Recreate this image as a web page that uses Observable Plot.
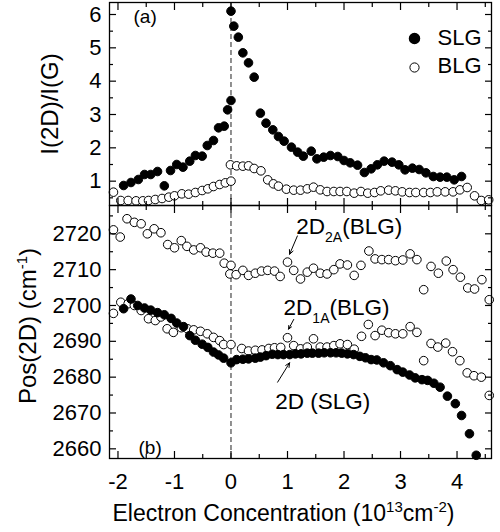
<!DOCTYPE html>
<html>
<head>
<meta charset="utf-8">
<script src="https://cdn.jsdelivr.net/npm/d3@7"></script>
<script src="https://cdn.jsdelivr.net/npm/@observablehq/plot@0.6"></script>
<style>
  body { margin: 0; background: #fff; }
  #chart { position: relative; width: 500px; height: 532px; }
  #chart svg { position: absolute; left: 0; }
</style>
</head>
<body>
<div id="chart"></div>
<script>
// ---------- data ----------
// Panel (a): I(2D)/I(G) vs electron concentration (10^13 cm^-2)
const slgRatio = [
  [-1.90,0.87],[-1.77,0.96],[-1.64,1.05],[-1.53,1.20],[-1.42,1.20],[-1.30,1.29],[-1.18,0.86],
  [-1.07,1.32],[-0.96,1.50],[-0.85,1.42],[-0.73,1.60],[-0.63,1.77],[-0.51,1.75],[-0.42,2.07],
  [-0.31,2.22],[-0.22,2.60],[-0.12,2.65],[-0.06,3.14],[0.00,3.42],[0.00,6.10],[0.05,5.65],
  [0.13,5.32],[0.21,4.85],[0.31,4.55],[0.41,4.12],[0.52,3.04],[0.62,2.74],[0.74,2.54],
  [0.84,2.34],[0.94,2.20],[1.07,2.02],[1.18,1.87],[1.28,1.75],[1.42,1.90],[1.52,1.67],
  [1.64,1.72],[1.76,1.77],[1.89,1.74],[2.00,1.62],[2.11,1.55],[2.24,1.48],[2.36,1.26],
  [2.48,1.37],[2.59,1.49],[2.71,1.60],[2.85,1.57],[2.97,1.49],[3.08,1.34],[3.21,1.39],
  [3.33,1.35],[3.45,1.25],[3.58,1.14],[3.70,1.12],[3.82,1.12],[3.95,1.04],[4.08,1.14]
];
const blgRatio = [
  [-2.08,0.67],[-1.95,0.42],[-1.82,0.42],[-1.68,0.41],[-1.56,0.41],[-1.46,0.42],[-1.34,0.45],
  [-1.22,0.48],[-1.10,0.52],[-1.00,0.56],[-0.87,0.62],[-0.75,0.61],[-0.63,0.66],[-0.51,0.72],
  [-0.41,0.77],[-0.31,0.84],[-0.20,0.90],[-0.10,0.95],[0.00,1.00],[-0.01,1.49],[0.10,1.46],
  [0.21,1.45],[0.31,1.46],[0.41,1.38],[0.53,1.31],[0.65,1.04],[0.75,0.92],[0.84,0.85],
  [0.98,0.76],[1.11,0.73],[1.23,0.73],[1.35,0.77],[1.46,0.82],[1.58,0.74],[1.70,0.69],
  [1.82,0.69],[1.93,0.69],[2.05,0.69],[2.18,0.64],[2.30,0.69],[2.42,0.64],[2.54,0.66],
  [2.65,0.71],[2.79,0.73],[2.91,0.71],[3.03,0.68],[3.16,0.66],[3.27,0.66],[3.41,0.66],
  [3.53,0.66],[3.65,0.68],[3.79,0.68],[3.93,0.68],[4.05,0.74],[4.18,0.81],[4.31,0.56],
  [4.43,0.42],[4.56,0.44]
];
// Panel (b): Pos(2D) (cm^-1)
const slgPos = [
  [-1.90,2699.1],[-1.77,2701.8],[-1.65,2700.0],[-1.53,2699.3],[-1.42,2698.7],[-1.30,2698.0],
  [-1.18,2697.4],[-1.06,2696.4],[-0.96,2695.1],[-0.84,2694.1],[-0.73,2691.6],[-0.63,2690.3],
  [-0.51,2689.2],[-0.41,2688.3],[-0.31,2687.0],[-0.22,2686.2],[-0.13,2685.3],[0.00,2684.0],
  [0.10,2684.9],[0.21,2685.0],[0.31,2685.1],[0.43,2685.3],[0.52,2685.6],[0.62,2686.0],
  [0.73,2686.4],[0.83,2686.3],[0.93,2686.3],[1.04,2686.3],[1.14,2686.5],[1.24,2686.5],
  [1.35,2686.7],[1.44,2686.7],[1.55,2686.7],[1.65,2686.8],[1.76,2686.8],[1.86,2686.8],
  [1.96,2686.7],[2.06,2686.5],[2.17,2686.3],[2.28,2685.8],[2.38,2685.4],[2.48,2684.9],
  [2.58,2684.8],[2.70,2684.0],[2.82,2683.2],[2.94,2682.1],[3.04,2681.4],[3.16,2680.6],
  [3.26,2679.8],[3.38,2679.3],[3.48,2679.1],[3.59,2678.3],[3.70,2677.2],[3.83,2674.7],
  [3.97,2672.6],[4.08,2669.3],[4.22,2664.2],[4.34,2658.2]
];
const blg2A = [
  [-2.08,2721.1],[-1.96,2719.1],[-1.84,2724.2],[-1.71,2723.2],[-1.59,2722.8],[-1.48,2720.0],
  [-1.36,2721.4],[-1.24,2720.3],[-1.12,2717.0],[-1.00,2716.1],[-0.88,2718.1],[-0.78,2716.5],
  [-0.66,2715.5],[-0.54,2716.1],[-0.44,2714.9],[-0.32,2714.6],[-0.20,2714.6],[-0.12,2711.8],
  [0.00,2711.2],[-0.02,2708.8],[0.09,2708.6],[0.21,2709.8],[0.31,2708.4],[0.43,2709.0],
  [0.54,2709.6],[0.65,2709.8],[0.77,2709.6],[0.87,2708.1],[1.00,2712.1],[1.11,2709.8],
  [1.23,2707.4],[1.35,2709.3],[1.46,2710.4],[1.58,2709.0],[1.70,2708.8],[1.82,2710.0],
  [1.93,2711.6],[2.06,2711.3],[2.18,2708.4],[2.30,2711.2],[2.44,2715.2],[2.55,2713.0],
  [2.67,2712.8],[2.79,2712.8],[2.91,2712.5],[3.04,2712.7],[3.17,2714.4],[3.29,2712.8],
  [3.41,2704.4],[3.54,2710.9],[3.67,2709.0],[3.81,2712.4],[3.93,2710.0],[4.06,2707.9],
  [4.19,2704.9],[4.31,2704.6],[4.44,2707.2],[4.57,2701.6]
];
const blg1A = [
  [-2.08,2697.8],[-1.95,2700.9],[-1.82,2700.5],[-1.71,2700.0],[-1.59,2698.6],[-1.46,2696.3],
  [-1.34,2695.8],[-1.24,2696.8],[-1.13,2693.5],[-1.02,2692.5],[-0.88,2693.8],[-0.77,2693.5],
  [-0.66,2693.2],[-0.54,2692.8],[-0.42,2692.1],[-0.31,2691.1],[-0.20,2690.2],[-0.13,2689.1],
  [0.00,2689.1],[0.19,2688.0],[0.31,2687.3],[0.43,2687.5],[0.55,2687.6],[0.67,2688.0],
  [0.77,2688.2],[0.88,2688.3],[1.00,2691.0],[1.11,2688.8],[1.23,2687.9],[1.35,2688.4],
  [1.46,2690.7],[1.58,2688.4],[1.70,2688.4],[1.82,2688.8],[1.93,2689.3],[2.06,2689.1],
  [2.18,2687.8],[2.31,2691.4],[2.43,2694.7],[2.55,2691.6],[2.67,2693.1],[2.79,2692.4],
  [2.91,2692.1],[3.04,2692.1],[3.17,2694.1],[3.29,2692.5],[3.41,2684.6],[3.54,2689.4],
  [3.66,2688.4],[3.80,2689.5],[3.92,2687.1],[4.05,2684.6],[4.18,2681.2],[4.30,2680.4],
  [4.43,2680.0],[4.57,2674.9]
];
// ticks and labels
const xMajor = [-2, -1, 0, 1, 2, 3, 4];
const xMinor = [-1.5, -0.5, 0.5, 1.5, 2.5, 3.5, 4.5];
const ratioMajor = [1, 2, 3, 4, 5, 6];
const ratioMinor = [0.5, 1.5, 2.5, 3.5, 4.5, 5.5];
const posMajor = [2660, 2670, 2680, 2690, 2700, 2710, 2720];
const posMinor = [2665, 2675, 2685, 2695, 2705, 2715, 2725];
const seriesNames = ["SLG", "BLG"];
const panelTags = ["(a)", "(b)"];
const annoLabels = [["2D", "2A", "(BLG)"], ["2D", "1A", "(BLG)"], ["2D (SLG)"]];

// ---------- drawing ----------
const FONT = "'Liberation Sans', Arial, Helvetica, sans-serif";
const FS = 22;
const xDomain = [-2.15, 4.61];
const blank = () => "";
const R = 4.3;

function frameTicks(yMajor, yMinor) {
  return [
    Plot.axisX(xMajor, {anchor: "top", tickSize: -7, tickFormat: blank, label: null, strokeWidth: 1.2}),
    Plot.axisX(xMinor, {anchor: "top", tickSize: -4, tickFormat: blank, label: null, strokeWidth: 1.2}),
    Plot.axisX(xMinor, {anchor: "bottom", tickSize: -4, tickFormat: blank, label: null, strokeWidth: 1.2}),
    Plot.axisY(yMajor, {anchor: "left", tickSize: -7, tickPadding: 15, label: null, strokeWidth: 1.2,
      fontSize: FS, tickFormat: d => String(d)}),
    Plot.axisY(yMinor, {anchor: "left", tickSize: -4, tickFormat: blank, label: null, strokeWidth: 1.2}),
    Plot.axisY(yMajor, {anchor: "right", tickSize: -7, tickFormat: blank, label: null, strokeWidth: 1.2}),
    Plot.axisY(yMinor, {anchor: "right", tickSize: -4, tickFormat: blank, label: null, strokeWidth: 1.2}),
  ];
}

const xy = {x: d => d[0], y: d => d[1]};

const topPlot = Plot.plot({
  width: 500, height: 207,
  marginTop: 2, marginBottom: 2, marginLeft: 109, marginRight: 9,
  style: {fontFamily: FONT, fontSize: FS + "px", background: "transparent", color: "#000", overflow: "visible"},
  x: {domain: xDomain, axis: null},
  y: {domain: [0.27, 6.36], axis: null},
  marks: [
    Plot.ruleX([0], {stroke: "#222", strokeWidth: 1, strokeDasharray: "5,3"}),
    Plot.dot(blgRatio, {...xy, r: R, fill: "#fff", stroke: "#000", strokeWidth: 1}),
    Plot.dot(slgRatio, {...xy, r: R, fill: "#000", stroke: "#000", strokeWidth: 1}),
    ...frameTicks(ratioMajor, ratioMinor),
    Plot.axisX(xMajor, {anchor: "bottom", tickSize: -7, tickFormat: blank, label: null, strokeWidth: 1.2}),
    Plot.frame({stroke: "#000", strokeWidth: 1.3}),
    // legend
    Plot.dot([seriesNames[0]], {frameAnchor: "top-right", dx: -77, dy: 36, r: 5, fill: "#000", stroke: "#000"}),
    Plot.dot([seriesNames[1]], {frameAnchor: "top-right", dx: -77, dy: 65, r: 4.6, fill: "#fff", stroke: "#000", strokeWidth: 1}),
    Plot.text([seriesNames[0]], {text: d => d, frameAnchor: "top-right", dx: -54, dy: 35.5, textAnchor: "start", lineAnchor: "middle", fontSize: 22}),
    Plot.text([seriesNames[1]], {text: d => d, frameAnchor: "top-right", dx: -54, dy: 63.3, textAnchor: "start", lineAnchor: "middle", fontSize: 22}),
    Plot.text([panelTags[0]], {text: d => d, frameAnchor: "top-left", dx: 24, dy: 20, textAnchor: "start", lineAnchor: "bottom", fontSize: 19}),
    // y label
    Plot.text(["I(2D)/I(G)"], {text: d => d, frameAnchor: "left", dx: -52, rotate: -90, textAnchor: "middle", lineAnchor: "bottom", fontSize: 24}),
  ]
});

const botPlot = Plot.plot({
  width: 500, height: 329,
  marginTop: 2, marginBottom: 74, marginLeft: 109, marginRight: 9,
  style: {fontFamily: FONT, fontSize: FS + "px", background: "transparent", color: "#000", overflow: "visible"},
  x: {domain: xDomain, axis: null},
  y: {domain: [2657.3, 2727.9], axis: null},
  marks: [
    Plot.ruleX([0], {stroke: "#222", strokeWidth: 1, strokeDasharray: "5,3"}),
    Plot.dot(blg2A, {...xy, r: R, fill: "#fff", stroke: "#000", strokeWidth: 1}),
    Plot.dot(blg1A, {...xy, r: R, fill: "#fff", stroke: "#000", strokeWidth: 1}),
    Plot.dot(slgPos, {...xy, r: R, fill: "#000", stroke: "#000", strokeWidth: 1}),
    ...frameTicks(posMajor, posMinor),
    Plot.axisX(xMajor, {anchor: "bottom", tickSize: -7, tickPadding: 22, label: null, strokeWidth: 1.2,
      fontSize: FS, tickFormat: d => String(d)}),
    Plot.frame({stroke: "#000", strokeWidth: 1.3}),
    Plot.text([panelTags[1]], {text: d => d, frameAnchor: "bottom-left", dx: 29, dy: -5, textAnchor: "start", lineAnchor: "bottom", fontSize: 19}),
    // annotations
    Plot.text([annoLabels[0]], {text: d => d[0], x: 1.156, y: 2720.0, textAnchor: "start", lineAnchor: "bottom", fontSize: 22.5, className: "anno-2a"}),
    Plot.arrow([annoLabels[0]], {x1: 1.175, y1: 2719.4, x2: 1.037, y2: 2714.3, stroke: "#000", strokeWidth: 1, headLength: 7, headAngle: 50}),
    Plot.text([annoLabels[1]], {text: d => d[0], x: 0.931, y: 2697.4, textAnchor: "start", lineAnchor: "bottom", fontSize: 22.5, className: "anno-1a"}),
    Plot.arrow([annoLabels[1]], {x1: 1.11, y1: 2696.1, x2: 1.019, y2: 2693.4, stroke: "#000", strokeWidth: 1, headLength: 7, headAngle: 50}),
    Plot.text([annoLabels[2]], {text: d => d[0], x: 0.784, y: 2671.2, textAnchor: "start", lineAnchor: "bottom", fontSize: 22.5}),
    Plot.arrow([annoLabels[2]], {x1: 0.825, y1: 2678.6, x2: 1.037, y2: 2684.0, stroke: "#000", strokeWidth: 1, headLength: 7, headAngle: 50}),
    // axis labels
    Plot.text(["Pos(2D) (cm"], {text: d => d, frameAnchor: "left", dx: -74, dy: -6, rotate: -90, textAnchor: "middle", lineAnchor: "bottom", fontSize: 24, className: "lbl-pos"}),
    Plot.text(["Electron Concentration (10"], {text: d => d, frameAnchor: "bottom", dx: -17, dy: 62, textAnchor: "middle", lineAnchor: "bottom", fontSize: 23, className: "lbl-x"}),
  ]
});

topPlot.style.top = "0px";
botPlot.style.top = "203px";
const chart = document.getElementById("chart");
chart.appendChild(topPlot);
chart.appendChild(botPlot);

// rich text (sub/superscripts)
function setRich(svg, cls, html) {
  const t = svg.querySelector(`g.${cls} text`);
  if (t) t.innerHTML = html;
}
setRich(botPlot, "anno-2a", `${annoLabels[0][0]}<tspan dy="8" font-size="14">${annoLabels[0][1]}</tspan><tspan dy="-8">${annoLabels[0][2]}</tspan>`);
setRich(botPlot, "anno-1a", `${annoLabels[1][0]}<tspan dy="8" font-size="14">${annoLabels[1][1]}</tspan><tspan dy="-8">${annoLabels[1][2]}</tspan>`);
setRich(botPlot, "lbl-pos", `Pos(2D) (cm<tspan dy="-9" font-size="15">-1</tspan><tspan dy="9">)</tspan>`);
setRich(botPlot, "lbl-x", `Electron Concentration (10<tspan dy="-9" font-size="15">13</tspan><tspan dy="9">cm</tspan><tspan dy="-9" font-size="15">-2</tspan><tspan dy="9">)</tspan>`);
</script>
</body>
</html>
